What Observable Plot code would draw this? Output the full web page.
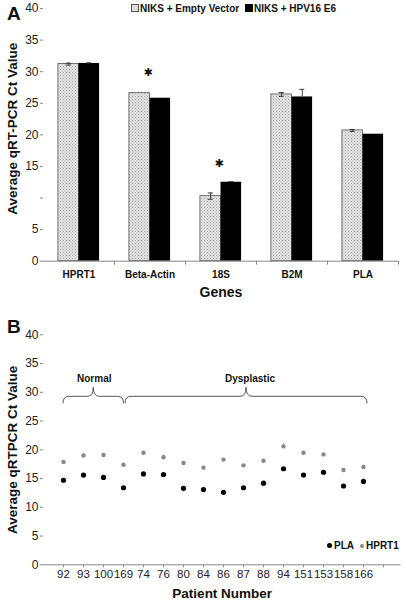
<!DOCTYPE html>
<html><head><meta charset="utf-8">
<script src="https://cdn.jsdelivr.net/npm/d3@7"></script>
<script src="https://cdn.jsdelivr.net/npm/@observablehq/plot@0.6"></script>
<style>
body{margin:0;background:#fff;font-family:"Liberation Sans",Arial,sans-serif;}
#wrap{position:relative;width:405px;height:600px;overflow:hidden;}
.panel{position:absolute;left:0;}
.tag{position:absolute;font-weight:bold;font-size:19px;line-height:20px;color:#111;}
.legend{position:absolute;font-weight:bold;font-size:10px;line-height:12px;white-space:nowrap;color:#111;}
.sw{display:inline-block;width:6px;height:6px;margin-right:1px;vertical-align:0px;}
.dot{display:inline-block;border-radius:50%;margin-right:2px;vertical-align:1px;}
</style></head><body>
<div id="wrap">
  <div class="panel" id="pa" style="top:0"></div>
  <div class="panel" id="pb" style="top:300px"></div>
  <div class="tag" style="left:7px;top:4px">A</div>
  <div class="tag" style="left:7px;top:317px">B</div>
  <div class="legend" style="left:131px;top:3px"><span class="sw" style="background:#ddd;border:1px solid #555"></span>NIKS + Empty Vector</div>
  <div class="legend" style="left:245px;top:3px"><span class="sw" style="background:#000;border:1px solid #000"></span>NIKS + HPV16 E6</div>
  <div class="legend" style="left:327px;top:540px"><span class="dot" style="width:5px;height:5px;background:#000"></span>PLA</div>
  <div class="legend" style="left:360px;top:540px"><span class="dot" style="width:4px;height:4px;background:#888"></span>HPRT1</div>
</div>
<script>
// ---------- Panel A data ----------
const genes = ["HPRT1", "Beta-Actin", "18S", "B2M", "PLA"];
const emptyVector = [31.2, 26.6, 10.3, 26.4, 20.7];
const emptyVectorErr = [0.15, 0, 0.5, 0.3, 0.15];
const hpv16E6 = [31.3, 25.8, 12.5, 26.0, 20.1];
const hpv16E6Err = [0.1, 0, 0.1, 1.2, 0];
const starGenes = ["Beta-Actin", "18S"];
const starY = [29.8, 15.5];
const yTicksA = [0, 5, 10, 15, 20, 25, 30, 35, 40];
const yTickLabelsA = ["0", "5", "", "15", "20", "25", "30", "35", "40"];

// ---------- Panel B data ----------
const patients = ["92", "93", "100", "169", "74", "76", "80", "84", "86", "87", "88", "94", "151", "153", "158", "166"];
const pla = [14.7, 15.6, 15.2, 13.4, 15.8, 15.7, 13.3, 13.1, 12.6, 13.4, 14.2, 16.7, 15.6, 16.1, 13.7, 14.5];
const plaErr = [0, 0, 0, 0, 0, 0.3, 0, 0, 0, 0, 0, 0, 0, 0, 0, 0];
const hprt1 = [17.9, 19.0, 19.1, 17.4, 19.5, 18.7, 17.7, 16.9, 18.3, 17.3, 18.1, 20.6, 19.5, 19.2, 16.5, 17.0];
const hprt1Err = [0, 0.3, 0.15, 0, 0.2, 0.4, 0, 0, 0, 0, 0, 0.4, 0, 0, 0, 0];
const yTicksB = [0, 5, 10, 15, 20, 25, 30, 35, 40];
const braceNames = ["Normal", "Dysplastic"];
const braceFrom = ["92", "169"];
const braceTo = ["169", "166"];
const braceLevel = 28;

const FONT = '"Liberation Sans", Arial, sans-serif';

// ---------- Panel A ----------
const W = 405, mlA = 43, mrA = 7;
const bw = (W - mlA - mrA) / genes.length;
const barW = bw * 0.29;
const gap = (bw - 2 * barW) / 2;
const rowsA = genes.map((g, i) => ({gene: g, ev: emptyVector[i], evErr: emptyVectorErr[i], e6: hpv16E6[i], e6Err: hpv16E6Err[i]}));
const stars = starGenes.map((g, i) => ({gene: g, y: starY[i]}));

function patternDefs() {
  const defs = d3.create("svg:defs");
  const p = defs.append("pattern").attr("id", "dotpat").attr("width", 3).attr("height", 3).attr("patternUnits", "userSpaceOnUse");
  p.append("rect").attr("width", 3).attr("height", 3).attr("fill", "#e2e2e2");
  p.append("rect").attr("width", 1).attr("height", 1).attr("fill", "#a8a8a8");
  p.append("rect").attr("x", 1.5).attr("y", 1.5).attr("width", 1).attr("height", 1).attr("fill", "#b8b8b8");
  return defs.node();
}

const evErrRows = rowsA.filter(d => d.evErr > 0);
const e6ErrRows = rowsA.filter(d => d.e6Err > 0);

const plotA = Plot.plot({
  width: W, height: 300,
  marginLeft: mlA, marginRight: mrA, marginTop: 8, marginBottom: 39.3,
  style: {fontFamily: FONT, background: "transparent", color: "#222"},
  x: {type: "band", domain: genes, paddingInner: 0, paddingOuter: 0},
  y: {domain: [0, 40]},
  marks: [
    patternDefs,
    Plot.barY(rowsA, {x: "gene", y: "ev", insetLeft: gap, insetRight: bw - gap - barW, fill: "url(#dotpat)", stroke: "#555", strokeWidth: 0.8}),
    Plot.barY(rowsA, {x: "gene", y: "e6", insetLeft: gap + barW, insetRight: gap, fill: "#000"}),
    Plot.ruleX(evErrRows, {x: "gene", y1: d => d.ev - d.evErr, y2: d => d.ev + d.evErr, dx: -barW / 2, stroke: "#333"}),
    Plot.tickY(evErrRows, {x: "gene", y: d => d.ev + d.evErr, dx: -barW / 2, insetLeft: bw / 2 - 2.5, insetRight: bw / 2 - 2.5, stroke: "#333"}),
    Plot.tickY(evErrRows, {x: "gene", y: d => d.ev - d.evErr, dx: -barW / 2, insetLeft: bw / 2 - 2.5, insetRight: bw / 2 - 2.5, stroke: "#333"}),
    Plot.ruleX(e6ErrRows, {x: "gene", y1: "e6", y2: d => d.e6 + d.e6Err, dx: barW / 2, stroke: "#444"}),
    Plot.tickY(e6ErrRows, {x: "gene", y: d => d.e6 + d.e6Err, dx: barW / 2, insetLeft: bw / 2 - 2.5, insetRight: bw / 2 - 2.5, stroke: "#444"}),
    Plot.text(stars, {x: "gene", y: "y", text: () => "\u2731", fontSize: 11, fontFamily: "DejaVu Sans", fontWeight: "bold", fill: "#111", dx: -2}),
    Plot.ruleY([0], {stroke: "#888"}),
    Plot.axisY({ticks: yTicksA, tickFormat: (d) => yTickLabelsA[yTicksA.indexOf(d)], tickSize: 3, tickPadding: 2, fontSize: 12, line: true, stroke: "#888", fill: "#222", label: null}),
    Plot.axisX({text: null, tickSize: 4, dx: bw / 2, stroke: "#888", label: null}),
    Plot.axisX({tickSize: 0, tickPadding: 10, fontSize: 10, fontWeight: "bold", fill: "#111", label: null}),
    Plot.text(["Average qRT-PCR Ct Value"], {text: d => d, frameAnchor: "left", textAnchor: "middle", lineAnchor: "middle", rotate: -90, dx: -31, dy: -6, fontSize: 13.5, fontWeight: "bold", fill: "#111"}),
    Plot.text(["Genes"], {text: d => d, frameAnchor: "bottom", textAnchor: "middle", lineAnchor: "middle", dy: 31, fontSize: 14, fontWeight: "bold", fill: "#111"})
  ]
});
document.getElementById("pa").appendChild(plotA);

// ---------- Panel B ----------
const rowsB = patients.map((p, i) => ({patient: p, pla: pla[i], plaErr: plaErr[i], hprt1: hprt1[i], hprt1Err: hprt1Err[i]}));
const braces = braceNames.map((n, i) => ({name: n, from: braceFrom[i], to: braceTo[i]}));

function braceMark(index, scales) {
  const x = scales.x, y = scales.y;
  const g = d3.create("svg:g");
  braces.forEach((b, i) => {
    const x1 = x(b.from) + (i === 0 ? 0 : 2);
    const x2 = x(b.to) + (i === 0 ? 0.5 : 4);
    const xm = (x1 + x2) / 2;
    const yE = y(braceLevel), yH = yE - 7, yT = yE - 16;
    const r = 6;
    const path = `M${x1},${yE} Q${x1},${yH} ${x1 + r},${yH} L${xm - r},${yH} Q${xm},${yH} ${xm},${yT} Q${xm},${yH} ${xm + r},${yH} L${x2 - r},${yH} Q${x2},${yH} ${x2},${yE}`;
    g.append("path").attr("d", path).attr("fill", "none").attr("stroke", "#555").attr("stroke-width", 1);
    g.append("text").attr("x", xm + (i === 0 ? 1 : 4)).attr("y", yT - 9).attr("text-anchor", "middle").attr("dy", "0.32em")
      .attr("font-size", 10).attr("font-weight", "bold").attr("fill", "#111").attr("font-family", FONT).text(b.name);
  });
  return g.node();
}

const hErr = rowsB.filter(d => d.hprt1Err > 0);
const pErr = rowsB.filter(d => d.plaErr > 0);

const plotB = Plot.plot({
  width: W, height: 300,
  marginLeft: 43, marginRight: 4.5, marginTop: 34.3, marginBottom: 35.7,
  style: {fontFamily: FONT, background: "transparent", color: "#222"},
  x: {type: "point", domain: [...patients, ""], range: [45, 400.5]},
  y: {domain: [0, 40]},
  marks: [
    Plot.ruleX(hErr, {x: "patient", y1: d => d.hprt1 - d.hprt1Err, y2: d => d.hprt1 + d.hprt1Err, stroke: "#888"}),
    Plot.ruleX(pErr, {x: "patient", y1: d => d.pla - d.plaErr, y2: d => d.pla + d.plaErr, stroke: "#888"}),
    Plot.dot(rowsB, {x: "patient", y: "hprt1", r: 2.2, fill: "#888", stroke: "none"}),
    Plot.dot(rowsB, {x: "patient", y: "pla", r: 2.6, fill: "#000", stroke: "none"}),
    braceMark,
    Plot.ruleY([0], {stroke: "#888"}),
    Plot.axisY({ticks: yTicksB, tickSize: 3, tickPadding: 2, fontSize: 12, line: true, stroke: "#888", fill: "#222", label: null}),
    Plot.axisX({tickSize: 3, tickPadding: 2, fontSize: 11.5, stroke: "#888", fill: "#222", label: null}),
    Plot.text(["Average qRTPCR Ct Value"], {text: d => d, frameAnchor: "left", textAnchor: "middle", lineAnchor: "middle", rotate: -90, dx: -31, fontSize: 13.5, fontWeight: "bold", fill: "#111"}),
    Plot.text(["Patient Number"], {text: d => d, frameAnchor: "bottom", textAnchor: "middle", lineAnchor: "middle", dy: 28.4, fontSize: 13.5, fontWeight: "bold", fill: "#111"})
  ]
});
document.getElementById("pb").appendChild(plotB);
</script>
</body></html>
